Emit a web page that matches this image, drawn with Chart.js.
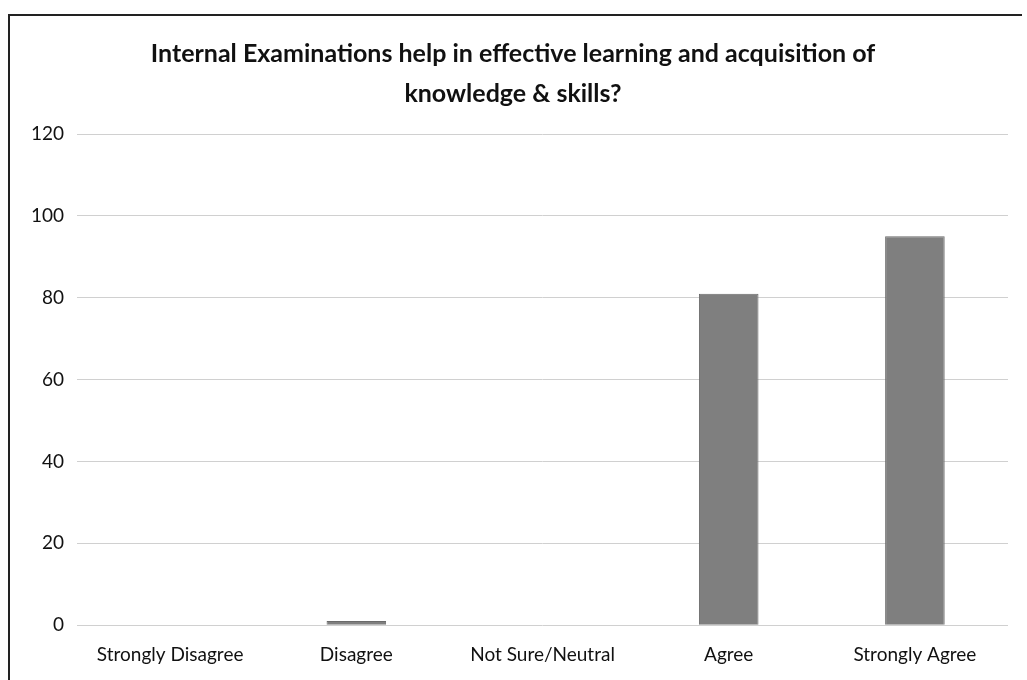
<!DOCTYPE html>
<html>
<head>
<meta charset="utf-8">
<script src="https://cdn.jsdelivr.net/npm/chart.js@4"></script>
<style>
  body { margin: 0; background: #fff; }
  #marco {
    position: absolute; left: 8px; top: 14px;
    width: 1014px; height: 670px;
    border: 2px solid #222; border-bottom: none; border-right: none;
    box-sizing: border-box;
  }
  canvas { position: absolute; left: 0; top: 0; }
</style>
</head>
<body>
<div id="marco"><canvas id="grafica" width="1012" height="668"></canvas></div>
<script>
// Datos de la encuesta
const categorias = ['Strongly Disagree', 'Disagree', 'Not Sure/Neutral', 'Agree', 'Strongly Agree'];
const respuestas = [0, 1, 0, 81, 95];
const ticksY = [0, 20, 40, 60, 80, 100, 120];

const ctx = document.getElementById('grafica').getContext('2d');
new Chart(ctx, {
    type: 'bar',
    data: {
        labels: categorias,
        datasets: [{
            label: 'Respuestas',
            data: respuestas,
            backgroundColor: '#7f7f7f',
            borderColor: '#6a6a6a',
            borderWidth: 1,
            barPercentage: 0.64,
            categoryPercentage: 0.5
        }]
    },
    options: {
        responsive: false,
        animation: false,
        layout: { padding: { left: 8, right: 14, top: 10, bottom: 0 } },
        plugins: {
            legend: { display: false },
            tooltip: { enabled: false },
            title: {
                display: true,
                text: ['Internal Examinations help in effective learning and acquisition of', 'knowledge & skills?'],
                color: '#111',
                font: { family: 'Lato', size: 25, weight: 'bold', lineHeight: 1.6 },
                padding: { top: 8, bottom: 20 }
            }
        },
        scales: {
            x: {
                grid: { display: false, drawTicks: false },
                border: { display: false },
                ticks: { color: '#111', font: { family: 'Lato', size: 19 }, padding: 18 }
            },
            y: {
                min: 0,
                max: 120,
                afterBuildTicks: (eje) => { eje.ticks = ticksY.map(v => ({ value: v })); },
                grid: { color: '#d0d0d0', drawTicks: false },
                border: { display: false },
                ticks: { color: '#111', font: { family: 'Lato', size: 19 }, padding: 13 }
            }
        }
    }
});
</script>
</body>
</html>
